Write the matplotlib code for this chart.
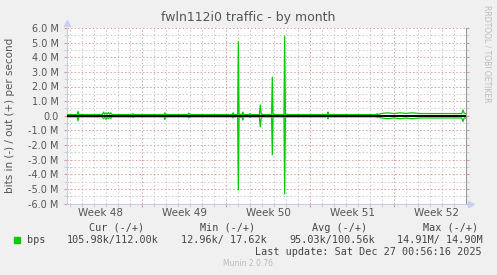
import matplotlib.pyplot as plt

# time axis in days since Monday of week 48; values in Mbit/s
out_days = [0.75, 1.6, 1.67, 1.74, 3.7, 3.8, 3.9, 4.0, 4.1, 4.2, 4.3, 4.4, 4.5,
            6.2, 6.25, 6.3, 8.85, 8.9, 8.95, 10.85, 10.9, 10.95, 14.55, 14.6, 14.65,
            14.97, 15.03, 15.09, 15.35, 15.4, 15.45, 15.95, 16.0, 16.05,
            16.78, 16.86, 16.94, 17.8, 17.86, 17.92, 18.83, 18.89, 18.95,
            22.45, 22.5, 22.55, 26.55, 26.6, 26.65, 27.0, 27.5, 28.0, 28.5,
            29.0, 29.5, 30.2, 33.65, 33.75, 33.85, 34.0]
out_vals = [0.08, 0.08, 0.3, 0.08, 0.08, 0.25, 0.1, 0.2, 0.1, 0.22, 0.1, 0.2, 0.08,
            0.08, 0.15, 0.08, 0.08, 0.2, 0.08, 0.08, 0.18, 0.08, 0.08, 0.2, 0.08,
            0.08, 5.05, 0.1, 0.1, 0.25, 0.08, 0.08, 0.15, 0.08,
            0.08, 0.74, 0.08, 0.08, 2.64, 0.08, 0.08, 5.44, 0.08,
            0.08, 0.25, 0.08, 0.08, 0.15, 0.08, 0.16, 0.2, 0.15, 0.2,
            0.16, 0.2, 0.15, 0.15, 0.4, 0.15, 0.15]
in_vals = [0.08, 0.08, 0.35, 0.08, 0.08, 0.2, 0.1, 0.25, 0.1, 0.2, 0.1, 0.18, 0.08,
           0.08, 0.12, 0.08, 0.08, 0.25, 0.08, 0.08, 0.15, 0.08, 0.08, 0.15, 0.08,
           0.08, 5.07, 0.1, 0.1, 0.3, 0.08, 0.08, 0.12, 0.08,
           0.08, 0.76, 0.08, 0.08, 2.66, 0.08, 0.08, 5.34, 0.08,
           0.08, 0.2, 0.08, 0.08, 0.12, 0.08, 0.16, 0.2, 0.15, 0.2,
           0.16, 0.2, 0.15, 0.15, 0.4, 0.15, 0.15]

y_ticks = [-6, -5, -4, -3, -2, -1, 0, 1, 2, 3, 4, 5, 6]
y_labels = ['-6.0 M', '-5.0 M', '-4.0 M', '-3.0 M', '-2.0 M', '-1.0 M', '0.0',
            '1.0 M', '2.0 M', '3.0 M', '4.0 M', '5.0 M', '6.0 M']
week_pos = [3.5, 10.5, 17.5, 24.5, 31.5]
week_labels = ['Week 48', 'Week 49', 'Week 50', 'Week 51', 'Week 52']

headers = ['Cur (-/+)', 'Min (-/+)', 'Avg (-/+)', 'Max (-/+)']
header_x = [89, 200, 312, 423]
values = ['105.98k/112.00k', '12.96k/ 17.62k', '95.03k/100.56k', '14.91M/ 14.90M']
value_x = [67, 181, 289, 397]

W, H = 497, 275
fig = plt.figure(figsize=(W / 100, H / 100), dpi=100, facecolor='#f0f0f0')
ax = fig.add_axes([67 / W, 1 - 203.5 / H, (466 - 67) / W, (203.5 - 28) / H])
ax.set_facecolor('white')

ax.set_xlim(0.75, 34.0)
ax.set_ylim(-6, 6)

# grid
red = '#d99a9a'
grey = '#c8c8c8'
ax.set_xticks([7, 14, 21, 28])
ax.set_xticks(range(1, 34), minor=True)
ax.set_yticks(y_ticks)
ax.set_yticks([v + 0.5 for v in range(-6, 6)], minor=True)
ax.grid(which='minor', color=grey, linestyle=(0, (1.4, 2.2)), linewidth=0.72)
ax.grid(which='major', color=red, linestyle=(0, (1.4, 2.2)), linewidth=0.72)
ax.set_axisbelow(True)
ax.set_xticklabels([])
ax.set_yticklabels(y_labels, fontsize=7, color='#555555')
ax.tick_params(which='major', axis='x', length=2, color=red)
ax.tick_params(which='minor', axis='x', length=2, color=grey)
ax.tick_params(which='both', axis='y', length=2, color=red, pad=4, right=True)
ax.tick_params(which='minor', axis='y', color=grey)

ax.spines['top'].set_visible(False)
ax.spines['left'].set_color('#c8cce8')
ax.spines['bottom'].set_color('#c8cce8')
ax.spines['right'].set_color('#999999')
ax.plot(0, 1.027, marker='^', ms=4, color='#c8d0f4', transform=ax.transAxes, clip_on=False)
ax.plot(1.012, 0, marker='>', ms=4, color='#c8d0f4', transform=ax.transAxes, clip_on=False)

# data
ax.plot(out_days, out_vals, color='#00cc00', lw=0.9, zorder=3)
ax.plot(out_days, [-v for v in in_vals], color='#00cc00', lw=0.9, zorder=3)
ax.axhline(0, color='black', lw=1.4, zorder=4)

for p, lab in zip(week_pos, week_labels):
    ax.text(p, -0.055, lab, transform=ax.get_xaxis_transform(), ha='center',
            va='center', fontsize=7.5, color='#555555')

fig.text(248 / W, 1 - 18 / H, 'fwln112i0 traffic - by month', ha='center', va='center',
         fontsize=9, color='#555555')
fig.text(10 / W, 1 - 115 / H, 'bits in (-) / out (+) per second', rotation=90,
         ha='center', va='center', fontsize=7.5, color='#555555')
fig.text(487 / W, 1 - 5 / H, 'RRDTOOL / TOBI OETIKER', rotation=270, ha='center',
         va='top', fontsize=5.5, color='#bbbbbb')

# legend
mono = 'DejaVu Sans Mono'
fig.patches.append(plt.Rectangle((14 / W, 1 - 243 / H), 6 / W, 6 / H, color='#00cc00',
                                 transform=fig.transFigure, figure=fig))
fig.text(27 / W, 1 - 240 / H, 'bps', ha='left', va='center', fontsize=7.3,
         family=mono, color='#444444')
for x, t in zip(header_x, headers):
    fig.text(x / W, 1 - 228 / H, t, ha='left', va='center', fontsize=7.3,
             family=mono, color='#444444')
for x, t in zip(value_x, values):
    fig.text(x / W, 1 - 240 / H, t, ha='left', va='center', fontsize=7.3,
             family=mono, color='#444444')
fig.text(482 / W, 1 - 252 / H, 'Last update: Sat Dec 27 00:56:16 2025', ha='right',
         va='center', fontsize=7.3, family=mono, color='#444444')
fig.text(248 / W, 1 - 264 / H, 'Munin 2.0.76', ha='center', va='center', fontsize=5.5,
         color='#bbbbbb')

fig.savefig('out.png', dpi=100, facecolor=fig.get_facecolor())
